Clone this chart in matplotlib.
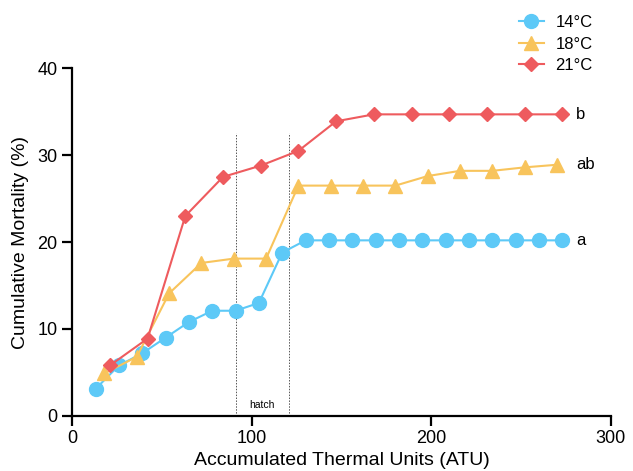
import matplotlib
matplotlib.use("Agg")
import matplotlib.pyplot as plt

plt.rcParams['font.family'] = ['Liberation Sans', 'DejaVu Sans']

# data
atu_14 = [13, 26, 39, 52, 65, 78, 91, 104, 117, 130, 143, 156, 169, 182, 195,
          208, 221, 234, 247, 260, 273]
mort_14 = [3.1, 5.8, 7.2, 9.0, 10.8, 12.1, 12.1, 13.0, 18.8, 20.2, 20.2, 20.2,
           20.2, 20.2, 20.2, 20.2, 20.2, 20.2, 20.2, 20.2, 20.2]

atu_18 = [18, 36, 54, 72, 90, 108, 126, 144, 162, 180, 198, 216, 234, 252, 270]
mort_18 = [4.9, 6.8, 14.1, 17.6, 18.1, 18.1, 26.5, 26.5, 26.5, 26.5, 27.6,
           28.2, 28.2, 28.6, 28.9]

atu_21 = [21, 42, 63, 84, 105, 126, 147, 168, 189, 210, 231, 252, 273]
mort_21 = [5.8, 8.9, 23.0, 27.5, 28.8, 30.5, 33.9, 34.7, 34.7, 34.7, 34.7,
           34.7, 34.7]

hatch_lines = [91, 120.5]
group_letters = ['a', 'ab', 'b']

fig = plt.figure(figsize=(6.33, 4.71), dpi=100)
ax = fig.add_axes([0.114, 0.117, 0.851, 0.738])

l1, = ax.plot(atu_14, mort_14, color='#5DC9F7', marker='o', markersize=10,
              lw=1.5, clip_on=False, zorder=3, label='14°C')
l2, = ax.plot(atu_18, mort_18, color='#F8C45C', marker='^', markersize=10,
              lw=1.5, clip_on=False, zorder=3, label='18°C')
l3, = ax.plot(atu_21, mort_21, color='#EE5B5E', marker='D', markersize=7,
              lw=1.5, clip_on=False, zorder=4, label='21°C')

for xv in hatch_lines:
    ax.vlines(xv, 0, 32.6, colors='#555555', linestyles=(0, (1.5, 1.5)), lw=0.7)
ax.text(sum(hatch_lines) / 2, 0.7, 'hatch', ha='center', va='bottom', fontsize=7.5)

for letter, yv in zip(group_letters, [mort_14[-1], mort_18[-1], mort_21[-1]]):
    ax.text(280.5, yv, letter, ha='left', va='center', fontsize=12)

ax.set_xlim(0, 300)
ax.set_ylim(0, 40)
ax.set_xticks([0, 100, 200, 300])
ax.set_yticks([0, 10, 20, 30, 40])
ax.spines['top'].set_visible(False)
ax.spines['right'].set_visible(False)
for s in ['left', 'bottom']:
    ax.spines[s].set_linewidth(1.6)
ax.tick_params(width=1.6, length=7, labelsize=13)
ax.set_xlabel('Accumulated Thermal Units (ATU)', fontsize=14, labelpad=3)
ax.set_ylabel('Cumulative Mortality (%)', fontsize=14, labelpad=6)

fig.legend(handles=[l1, l2, l3], loc='upper right', bbox_to_anchor=(0.96, 1.0),
           frameon=False, fontsize=12, handlelength=1.5, handletextpad=0.7,
           labelspacing=0.4)

fig.savefig('out.png', dpi=100)
